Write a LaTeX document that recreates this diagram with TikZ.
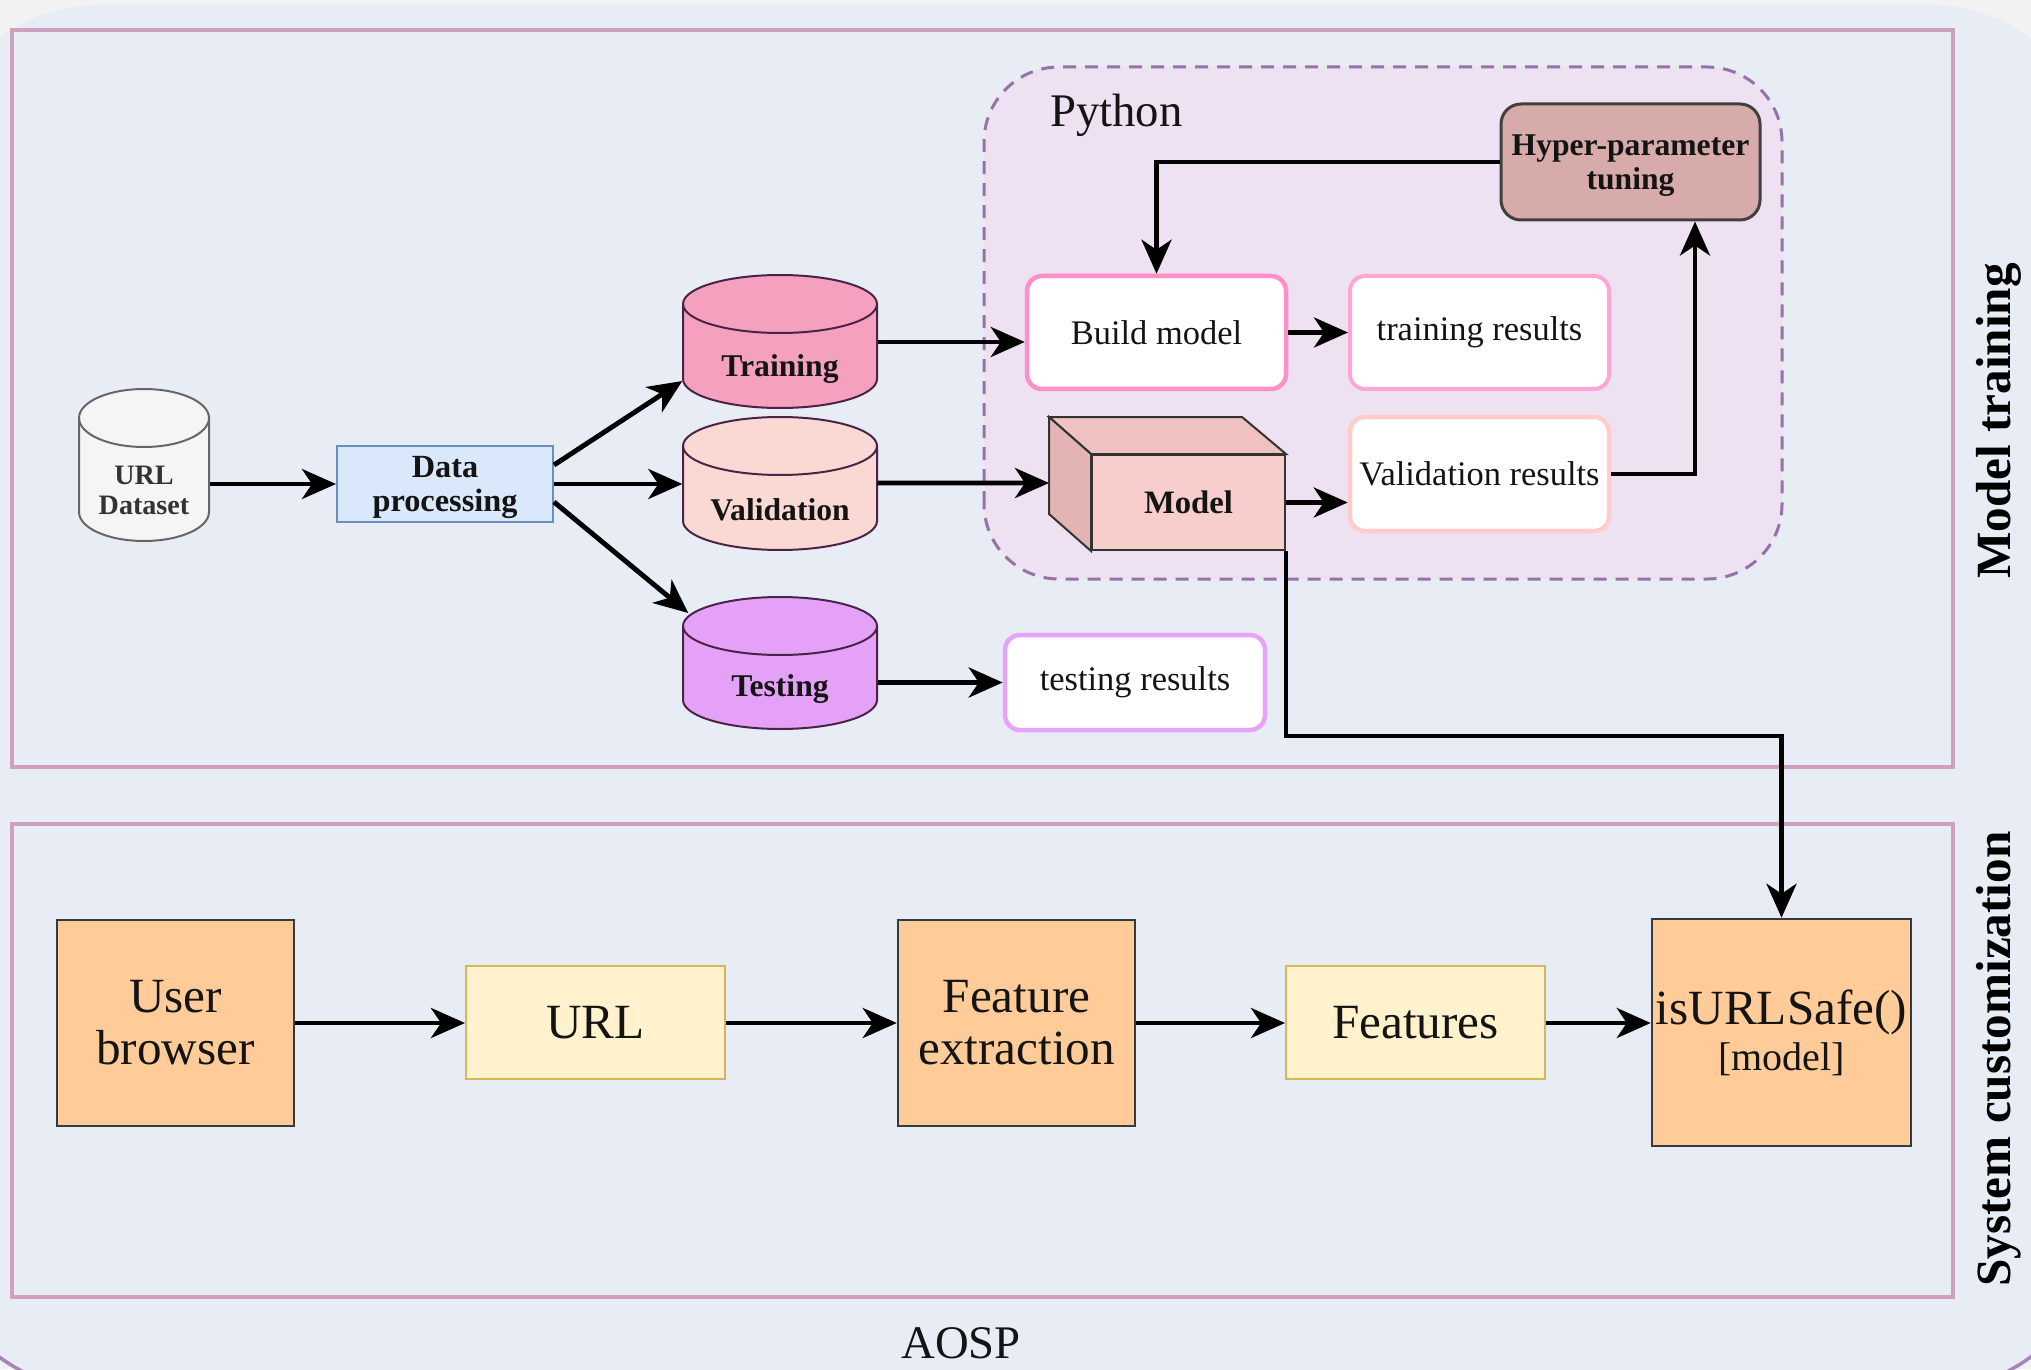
\documentclass[tikz,border=0pt]{standalone}
\usepackage{fontspec}
\setmainfont{Liberation Serif}
\usepackage{tikz}
\usetikzlibrary{arrows.meta,calc}

\definecolor{pagegray}{HTML}{F2F2F2}
\definecolor{panelbg}{HTML}{E8ECF5}
\definecolor{panelrim}{HTML}{A983BA}
\definecolor{framepink}{HTML}{CDA1BF}
\definecolor{pyfill}{HTML}{EDE1F2}
\definecolor{pyedge}{HTML}{9673A6}
\definecolor{hypfill}{HTML}{D8ABAB}
\definecolor{buildedge}{HTML}{FF8FC7}
\definecolor{trresedge}{HTML}{FFA6D5}
\definecolor{valresedge}{HTML}{FFCCCC}
\definecolor{teresedge}{HTML}{E6A3FA}
\definecolor{modfront}{HTML}{F8CECC}
\definecolor{modtop}{HTML}{EFC1C1}
\definecolor{modside}{HTML}{E4B4B4}
\definecolor{urlgray}{HTML}{F5F5F5}
\definecolor{trainpink}{HTML}{F5A0BE}
\definecolor{validpink}{HTML}{FAD9D5}
\definecolor{testviolet}{HTML}{E5A1F8}
\definecolor{cyledge}{HTML}{4A2447}
\definecolor{dpfill}{HTML}{DAE8FC}
\definecolor{dpedge}{HTML}{6C8EBF}
\definecolor{orangefill}{HTML}{FFCC99}
\definecolor{orangeedge}{HTML}{36393D}
\definecolor{yellowfill}{HTML}{FFF2CC}
\definecolor{yellowedge}{HTML}{D6B656}

\begin{document}
\begin{tikzpicture}[
      x=0.1mm,y=0.1mm,
      every node/.style={align=center,inner sep=1pt,text=black!92},
      arr/.style={draw=black,line width=1.4pt,-{Stealth[length=3.4mm,width=3mm,inset=1mm]}},
      frame/.style={draw=framepink,line width=0.45mm},
      side/.style={font=\bfseries\fontsize{14}{16}\selectfont,text=black},
      big/.style={font=\fontsize{14}{14.8}\selectfont},
      cylt/.style={font=\bfseries\fontsize{9}{10}\selectfont,minimum width=19.4mm},
      res/.style={draw,fill=white,rounded corners=1.5mm,line width=0.45mm,
        minimum width=25.9mm,font=\fontsize{9.8}{11.5}\selectfont},
      hyp/.style={draw=black!75,fill=hypfill,line width=0.3mm,rounded corners=2mm,
        minimum width=25.9mm,minimum height=11.6mm,font=\bfseries\fontsize{9}{9.7}\selectfont},
      mdl/.style={draw=black!80,fill=modfront,line width=0.2mm,minimum width=19.3mm,
        minimum height=9.5mm,font=\bfseries\fontsize{9.3}{11}\selectfont},
      dpbox/.style={draw=dpedge,fill=dpfill,line width=0.2mm,minimum width=21.6mm,
        minimum height=7.6mm,font=\bfseries\fontsize{9.2}{9.7}\selectfont},
      obox/.style={draw=orangeedge,fill=orangefill,line width=0.25mm,minimum width=23.7mm,
        minimum height=20.6mm,big},
      ybox/.style={draw=yellowedge,fill=yellowfill,line width=0.2mm,minimum width=25.9mm,
        minimum height=11.3mm,big}
    ]
    \useasboundingbox (0,0) rectangle (2031,1369);
    % background
    \fill[pagegray] (0,0) rectangle (2031,1369);
    \fill[panelbg,rounded corners=17mm] (-70,-21) rectangle (2100,1364);
    \begin{scope}
      \clip (-100,-100) rectangle (2200,60);
      \draw[panelrim,line width=0.35mm,rounded corners=17mm] (-70,-21) rectangle (2100,1364);
    \end{scope}
    % frames
    \draw[frame] (12,602) rectangle (1953,1339);
    \draw[frame] (12,72) rectangle (1953,545);
    \node[side,rotate=90] (mtlab) at (1999,948) {Model training};
    \node[side,rotate=90] (sclab) at (1999,310) {System customization};
    \node[font=\fontsize{13.3}{15}\selectfont] (aosp) at (961,26) {AOSP};
    % python block
    \draw[pyedge,fill=pyfill,line width=0.3mm,dash pattern=on 1.3mm off 0.9mm,
      rounded corners=7.5mm] (984,790) rectangle (1782,1302);
    \node[anchor=base west,font=\fontsize{13.3}{15}\selectfont] (pylab) at (1046,1242) {Python};
    % data stores
    \foreach \xl/\xr/\rx/\yt/\yb/\col/\edge in {79/209/6.5mm/980/828/urlgray/black!60,
        683/877/9.7mm/1094/961/trainpink/cyledge, 683/877/9.7mm/952/819/validpink/cyledge,
        683/877/9.7mm/772/640/testviolet/cyledge}{
      \draw[draw=\edge,fill=\col,line width=0.2mm] (\xl,\yt-29) -- (\xl,\yb+29)
        arc[start angle=180,end angle=360,x radius=\rx,y radius=2.9mm] -- (\xr,\yt-29)
        arc[start angle=0,end angle=180,x radius=\rx,y radius=2.9mm] -- cycle;
      \draw[draw=\edge,line width=0.2mm] (\xl,\yt-29)
        arc[start angle=180,end angle=360,x radius=\rx,y radius=2.9mm];}
    \node[minimum width=13mm,font=\bfseries\fontsize{8}{8.5}\selectfont,text=black!80]
      (dataset) at (144,879) {URL\\Dataset};
    \node[cylt] (train) at (780,1000) {Training};
    \node[cylt] (valid) at (780,859) {Validation};
    \node[cylt] (test) at (780,680) {Testing};
    \node[dpbox,text depth=-0.6pt] (dp) at (445,885) {Data\\processing};
    % python steps
    \node[hyp,text depth=-1pt] (hyper) at (1630.5,1207) {Hyper-parameter\\tuning};
    \node[res,draw=buildedge,minimum height=11.3mm] (build) at (1156.5,1036.5) {Build model};
    \node[res,draw=trresedge,line width=0.4mm,minimum height=11.3mm] (trres) at (1479.5,1036.5) {training results};
    \node[mdl] (model) at (1188.5,866.5) {Model};
    \fill[modtop,draw=black!80,line width=0.2mm] (model.north west) -- ++(-42,37) -- ++(193,0)
      -- (model.north east) -- cycle;
    \fill[modside,draw=black!80,line width=0.2mm] (model.north west) -- ++(-42,37)
      -- ([shift={(-42,37)}]model.south west) -- (model.south west) -- cycle;
    \node[res,draw=valresedge,minimum height=11.4mm] (valres) at (1479.5,895) {Validation results};
    \node[res,draw=teresedge,minimum width=26mm,minimum height=9.5mm] (teres) at (1135,686.5) {testing results};
    % android side
    \node[obox] (user) at (175.5,346) {User\\browser};
    \node[ybox] (urlbox) at (595.5,346.5) {URL};
    \node[obox] (feat) at (1016.5,346) {Feature\\extraction};
    \node[ybox] (feats) at (1415.5,346.5) {Features};
    \node[obox,minimum width=25.9mm,minimum height=22.7mm] (isurl) at (1781.5,336.5)
      {isURLSafe()\\[-1.7pt]{\fontsize{11.4}{13}\selectfont [model]}};
    % connectors
    \draw[arr] (dataset.east |- dp.west) -- (dp.west);
    \draw[arr] ([yshift=1.9mm]dp.east) -- ([yshift=-1.2mm]train.west);
    \draw[arr] (dp.east) -- (dp.east -| valid.west);
    \draw[arr] ([yshift=-1.8mm]dp.east) -- ([shift={(0.6mm,7.6mm)}]test.west);
    \draw[arr] ([yshift=2.7mm]train.east) -- ([yshift=2.7mm]train.east -| build.west);
    \draw[arr] ([yshift=2.7mm]valid.east) -- ([shift={(-4.2mm,1.95mm)}]model.west);
    \draw[arr] (test.east |- teres.west) -- (teres.west);
    \draw[arr] (build) -- (trres);
    \draw[arr] (model.east) -- (model.east -| valres.west);
    \draw[arr] (valres.east) -| ([xshift=6.45mm]hyper.south);
    \draw[arr] (hyper.west) -| (build.north);
    \draw[arr] (model.south east) -- ++(0,-185) -| (isurl.north);
    \foreach \a/\b in {user/urlbox,urlbox/feat,feat/feats,feats/isurl}{
      \draw[arr] (\a.east |- user.east) -- (\b.west |- user.east);}
  \end{tikzpicture}
\end{document}
